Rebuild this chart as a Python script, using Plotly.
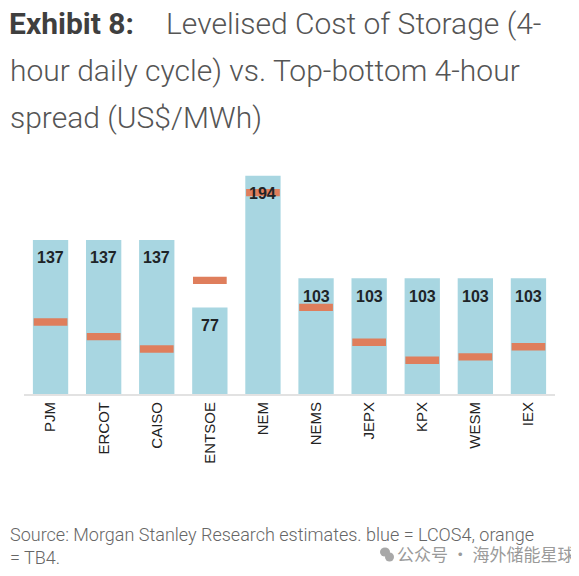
import plotly.graph_objects as go

markets = ["PJM", "ERCOT", "CAISO", "ENTSOE", "NEM", "NEMS", "JEPX", "KPX", "WESM", "IEX"]
lcos4 = [137, 137, 137, 77, 194, 103, 103, 103, 103, 103]
tb4 = [64, 51, 40, 101, 179, 77, 46, 30, 33, 42]

BLUE = "#A8D6E1"
ORANGE = "#DF7E5C"
SANS = "Liberation Sans, Arial, sans-serif"
ROBOTO = "Roboto, Liberation Sans, sans-serif"

OFF = 8  # page body margin of the browser
W, H = 579 - OFF, 576 - OFF
L = 24 - OFF
R = W - (555 - OFF)
BASE = 394.3 - OFF
T = 150 - OFF
B = H - BASE
PH = H - T - B
PX_PER_UNIT = 1.1263
YMAX = PH / PX_PER_UNIT
MARK_H = 6.5  # thickness of the orange marker in data units

fig = go.Figure()
fig.add_trace(go.Bar(
    x=markets, y=lcos4, marker=dict(color=BLUE, line=dict(width=0)),
    width=0.665, name="LCOS4", hoverinfo="x+y",
))
fig.add_trace(go.Bar(
    x=markets, y=[MARK_H] * len(tb4), base=[v - MARK_H / 2 for v in tb4],
    marker=dict(color=ORANGE, line=dict(width=0)),
    width=0.635, name="TB4", customdata=tb4, hovertemplate="%{x}: %{customdata}<extra></extra>",
))

annotations = []
for m, v in zip(markets, lcos4):
    annotations.append(dict(
        x=m, y=v, xref="x", yref="y", text=f"<b>{v}</b>", showarrow=False,
        yanchor="middle", xanchor="center", yshift=-18,
        font=dict(family=SANS, size=16, color="#1e2428"),
    ))


def px_x(px):
    return (px - OFF - L) / (W - L - R)


def px_y(py):
    return (H - B - (py - OFF)) / PH


title_col = "#555555"
light = dict(family=ROBOTO, size=30, color=title_col, weight=300)
annotations += [
    dict(x=px_x(8), y=px_y(23), xref="paper", yref="paper", xanchor="left", yanchor="middle", borderpad=0,
         text="<b>Exhibit 8:</b>", showarrow=False, font=dict(family=ROBOTO, size=30, color="#3f3f3f")),
    dict(x=px_x(165), y=px_y(23), xref="paper", yref="paper", xanchor="left", yanchor="middle", borderpad=0,
         text="Levelised Cost of Storage (4-", showarrow=False, font=light),
    dict(x=px_x(8), y=px_y(70), xref="paper", yref="paper", xanchor="left", yanchor="middle",
         text="hour daily cycle) vs. Top-bottom 4-hour", showarrow=False, font=light),
    dict(x=px_x(8), y=px_y(117), xref="paper", yref="paper", xanchor="left", yanchor="middle",
         text="spread (US$/MWh)", showarrow=False, font=light),
    dict(x=px_x(8), y=px_y(535), xref="paper", yref="paper", xanchor="left", yanchor="middle",
         text="Source: Morgan Stanley Research estimates. blue = LCOS4, orange", showarrow=False,
         font=dict(family=ROBOTO, size=18, color="#666666", weight=300)),
    dict(x=px_x(8), y=px_y(558), xref="paper", yref="paper", xanchor="left", yanchor="middle",
         text="= TB4.", showarrow=False, font=dict(family=ROBOTO, size=18, color="#666666", weight=300)),
    dict(x=px_x(395), y=px_y(554), xref="paper", yref="paper", xanchor="left", yanchor="middle",
         text="公众号 · 海外储能星球", showarrow=False,
         font=dict(family="Noto Sans CJK SC, sans-serif", size=17, color="#9a9a9a")),
]

# small gray chat-bubble icon in front of the watermark
shapes = [
    dict(type="circle", xref="paper", yref="paper", fillcolor="#a8a8a8", line=dict(width=0),
         x0=px_x(380), x1=px_x(390), y0=px_y(557), y1=px_y(548)),
    dict(type="circle", xref="paper", yref="paper", fillcolor="#a8a8a8", line=dict(width=0),
         x0=px_x(385), x1=px_x(394), y0=px_y(562), y1=px_y(553)),
]

fig.update_layout(
    width=W, height=H, margin=dict(l=L, r=R, t=T, b=B, autoexpand=False),
    paper_bgcolor="white", plot_bgcolor="white",
    barmode="overlay", showlegend=False, bargap=0.335,
    annotations=annotations, shapes=shapes,
    xaxis=dict(
        type="category", range=[-0.5, len(markets) - 0.5], tickangle=-90,
        showline=True, linecolor="#e2e2e2", linewidth=2, ticks="", showgrid=False,
        tickfont=dict(family=SANS, size=15, color="#222222"), fixedrange=True,
    ),
    yaxis=dict(range=[0, YMAX], visible=False, showgrid=False, zeroline=False, fixedrange=True),
)

fig.write_html("out.html")
